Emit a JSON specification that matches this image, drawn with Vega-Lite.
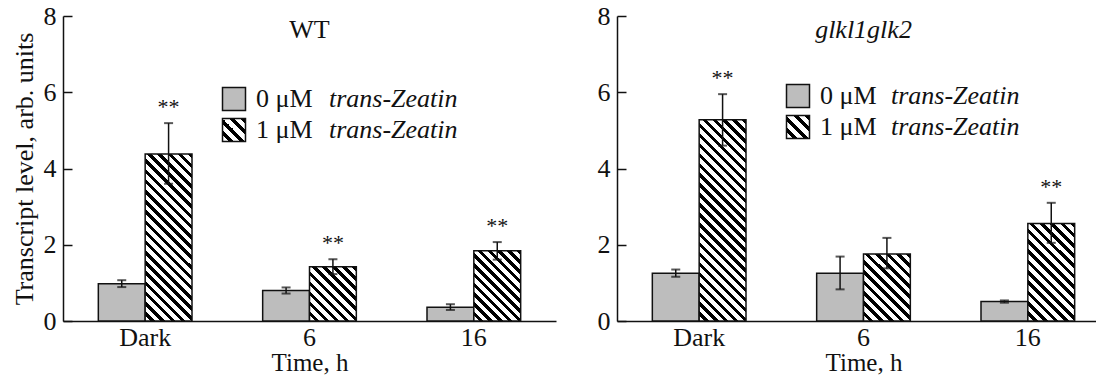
{
  "$schema": "https://vega.github.io/schema/vega-lite/v6.json",
  "padding": {"left": 10, "top": 3, "right": 0, "bottom": 0},
  "config": {
    "font": "Liberation Serif",
    "view": {"stroke": null},
    "axis": {"labelFont": "Liberation Serif", "labelFontSize": 26, "labelColor": "#111", "titleFont": "Liberation Serif", "titleFontSize": 26, "titleFontWeight": "normal", "titleColor": "#111", "domainColor": "#111", "domainWidth": 1.5, "tickColor": "#111", "tickWidth": 1.5, "grid": false},
    "legend": {"labelFont": "Liberation Serif", "labelFontSize": 26, "labelColor": "#111"},
    "concat": {"spacing": 41}
  },
  "resolve": {"scale": {"fill": "independent", "opacity": "independent"}, "legend": {"fill": "independent", "opacity": "independent"}},
  "datasets": {
    "wt": [
      {"time": "Dark", "conc": "0", "value": 0.98, "lo": 0.89, "hi": 1.07, "sig": ""},
      {"time": "Dark", "conc": "1", "value": 4.38, "lo": 3.6, "hi": 5.19, "sig": "**"},
      {"time": "6", "conc": "0", "value": 0.8, "lo": 0.72, "hi": 0.88, "sig": ""},
      {"time": "6", "conc": "1", "value": 1.42, "lo": 1.23, "hi": 1.62, "sig": "**"},
      {"time": "16", "conc": "0", "value": 0.36, "lo": 0.29, "hi": 0.44, "sig": ""},
      {"time": "16", "conc": "1", "value": 1.84, "lo": 1.61, "hi": 2.07, "sig": "**"}
    ],
    "glk": [
      {"time": "Dark", "conc": "0", "value": 1.25, "lo": 1.16, "hi": 1.35, "sig": ""},
      {"time": "Dark", "conc": "1", "value": 5.28, "lo": 4.6, "hi": 5.95, "sig": "**"},
      {"time": "6", "conc": "0", "value": 1.25, "lo": 0.83, "hi": 1.69, "sig": ""},
      {"time": "6", "conc": "1", "value": 1.76, "lo": 1.38, "hi": 2.18, "sig": ""},
      {"time": "16", "conc": "0", "value": 0.51, "lo": 0.48, "hi": 0.54, "sig": ""},
      {"time": "16", "conc": "1", "value": 2.56, "lo": 2.05, "hi": 3.1, "sig": "**"}
    ]
  },
  "hconcat": [
    {
      "width": 493, "height": 305,
      "title": {"text": "WT", "fontSize": 26, "fontWeight": "normal", "font": "Liberation Serif", "color": "#111", "frame": "group", "anchor": "middle", "offset": -40},
      "data": {"name": "wt"},
      "encoding": {
        "x": {"field": "time", "type": "nominal", "sort": ["Dark", "6", "16"], "scale": {"paddingInner": 0.43, "paddingOuter": 0.215}, "axis": {"title": "Time, h", "titleFontSize": 25, "labelAngle": 0, "ticks": false, "labelPadding": 3, "titlePadding": 0}},
        "xOffset": {"field": "conc", "type": "nominal", "scale": {"domain": ["0", "1"]}}
      },
      "layer": [
        {
          "transform": [{"filter": "datum.conc == '0'"}],
          "mark": {"type": "bar", "stroke": "#111", "strokeWidth": 1.5},
          "encoding": {
            "y": {"field": "value", "type": "quantitative", "scale": {"domain": [0, 8]}, "axis": {"title": "Transcript level, arb. units", "values": [0, 2, 4, 6, 8], "tickSize": -9, "labelPadding": 16, "titlePadding": 6}},
            "fill": {"field": "conc", "type": "nominal", "scale": {"domain": ["0", "1"], "range": ["#bdbdbd", {"expr": "{gradient: 'linear', x1: 0, y1: 1, x2: 1, y2: 0, stops: [{offset: 0, color: '#fff'}, {offset: 0.1375, color: '#fff'}, {offset: 0.1375, color: '#000'}, {offset: 0.25, color: '#000'}, {offset: 0.25, color: '#fff'}, {offset: 0.3875, color: '#fff'}, {offset: 0.3875, color: '#000'}, {offset: 0.5, color: '#000'}, {offset: 0.5, color: '#fff'}, {offset: 0.6375, color: '#fff'}, {offset: 0.6375, color: '#000'}, {offset: 0.75, color: '#000'}, {offset: 0.75, color: '#fff'}, {offset: 0.8875, color: '#fff'}, {offset: 0.8875, color: '#000'}, {offset: 1, color: '#000'}]}"}]},
              "legend": {"orient": "none", "legendX": 158, "legendY": 70, "title": null, "symbolType": "square", "symbolSize": 529, "symbolStrokeColor": "#111", "symbolStrokeWidth": 1.5, "symbolOpacity": 1, "labelExpr": "datum.label + ' μM'", "labelOffset": 9, "rowPadding": 1, "padding": 0}},
            "opacity": {"field": "conc", "type": "nominal", "scale": {"domain": ["1", "0"], "range": [1, 1]},
              "legend": {"orient": "none", "legendX": 158, "legendY": 70, "title": null, "symbolType": "square", "symbolSize": 529, "symbolFillColor": "transparent", "symbolStrokeColor": "transparent", "symbolStrokeWidth": 1.5, "labelExpr": "'trans-Zeatin'", "labelFontStyle": "italic", "labelOffset": 82, "rowPadding": 1, "padding": 0,
                "encode": {"symbols": {"update": {"fill": {"value": "transparent"}, "stroke": {"value": "transparent"}, "opacity": {"value": 0}}}}}}
          }
        },
        {
          "transform": [{"filter": "datum.conc == '1' && datum.time == 'Dark'"}],
          "mark": {"type": "bar", "stroke": "#111", "strokeWidth": 1.5, "fill": {"gradient": "linear", "x1": 0, "y1": 1, "x2": 0.3327, "y2": -0.187, "stops": [
            {"offset": 0, "color": "#fff"},
            {"offset": 0.0262, "color": "#fff"}, {"offset": 0.0262, "color": "#000"}, {"offset": 0.0476, "color": "#000"}, {"offset": 0.0476, "color": "#fff"},
            {"offset": 0.0738, "color": "#fff"}, {"offset": 0.0738, "color": "#000"}, {"offset": 0.0952, "color": "#000"}, {"offset": 0.0952, "color": "#fff"},
            {"offset": 0.1214, "color": "#fff"}, {"offset": 0.1214, "color": "#000"}, {"offset": 0.1429, "color": "#000"}, {"offset": 0.1429, "color": "#fff"},
            {"offset": 0.169, "color": "#fff"}, {"offset": 0.169, "color": "#000"}, {"offset": 0.1905, "color": "#000"}, {"offset": 0.1905, "color": "#fff"},
            {"offset": 0.2167, "color": "#fff"}, {"offset": 0.2167, "color": "#000"}, {"offset": 0.2381, "color": "#000"}, {"offset": 0.2381, "color": "#fff"},
            {"offset": 0.2643, "color": "#fff"}, {"offset": 0.2643, "color": "#000"}, {"offset": 0.2857, "color": "#000"}, {"offset": 0.2857, "color": "#fff"},
            {"offset": 0.3119, "color": "#fff"}, {"offset": 0.3119, "color": "#000"}, {"offset": 0.3333, "color": "#000"}, {"offset": 0.3333, "color": "#fff"},
            {"offset": 0.3595, "color": "#fff"}, {"offset": 0.3595, "color": "#000"}, {"offset": 0.381, "color": "#000"}, {"offset": 0.381, "color": "#fff"},
            {"offset": 0.4071, "color": "#fff"}, {"offset": 0.4071, "color": "#000"}, {"offset": 0.4286, "color": "#000"}, {"offset": 0.4286, "color": "#fff"},
            {"offset": 0.4548, "color": "#fff"}, {"offset": 0.4548, "color": "#000"}, {"offset": 0.4762, "color": "#000"}, {"offset": 0.4762, "color": "#fff"},
            {"offset": 0.5024, "color": "#fff"}, {"offset": 0.5024, "color": "#000"}, {"offset": 0.5238, "color": "#000"}, {"offset": 0.5238, "color": "#fff"},
            {"offset": 0.55, "color": "#fff"}, {"offset": 0.55, "color": "#000"}, {"offset": 0.5714, "color": "#000"}, {"offset": 0.5714, "color": "#fff"},
            {"offset": 0.5976, "color": "#fff"}, {"offset": 0.5976, "color": "#000"}, {"offset": 0.619, "color": "#000"}, {"offset": 0.619, "color": "#fff"},
            {"offset": 0.6452, "color": "#fff"}, {"offset": 0.6452, "color": "#000"}, {"offset": 0.6667, "color": "#000"}, {"offset": 0.6667, "color": "#fff"},
            {"offset": 0.6929, "color": "#fff"}, {"offset": 0.6929, "color": "#000"}, {"offset": 0.7143, "color": "#000"}, {"offset": 0.7143, "color": "#fff"},
            {"offset": 0.7405, "color": "#fff"}, {"offset": 0.7405, "color": "#000"}, {"offset": 0.7619, "color": "#000"}, {"offset": 0.7619, "color": "#fff"},
            {"offset": 0.7881, "color": "#fff"}, {"offset": 0.7881, "color": "#000"}, {"offset": 0.8095, "color": "#000"}, {"offset": 0.8095, "color": "#fff"},
            {"offset": 0.8357, "color": "#fff"}, {"offset": 0.8357, "color": "#000"}, {"offset": 0.8571, "color": "#000"}, {"offset": 0.8571, "color": "#fff"},
            {"offset": 0.8833, "color": "#fff"}, {"offset": 0.8833, "color": "#000"}, {"offset": 0.9048, "color": "#000"}, {"offset": 0.9048, "color": "#fff"},
            {"offset": 0.931, "color": "#fff"}, {"offset": 0.931, "color": "#000"}, {"offset": 0.9524, "color": "#000"}, {"offset": 0.9524, "color": "#fff"},
            {"offset": 0.9786, "color": "#fff"}, {"offset": 0.9786, "color": "#000"}, {"offset": 1, "color": "#000"}
          ]}},
          "encoding": {"y": {"field": "value", "type": "quantitative"}}
        },
        {
          "transform": [{"filter": "datum.conc == '1' && datum.time == '6'"}],
          "mark": {"type": "bar", "stroke": "#111", "strokeWidth": 1.5, "fill": {"gradient": "linear", "x1": 0, "y1": 1, "x2": 0.9228, "y2": -0.0668, "stops": [
            {"offset": 0, "color": "#fff"},
            {"offset": 0.055, "color": "#fff"}, {"offset": 0.055, "color": "#000"}, {"offset": 0.1, "color": "#000"}, {"offset": 0.1, "color": "#fff"},
            {"offset": 0.155, "color": "#fff"}, {"offset": 0.155, "color": "#000"}, {"offset": 0.2, "color": "#000"}, {"offset": 0.2, "color": "#fff"},
            {"offset": 0.255, "color": "#fff"}, {"offset": 0.255, "color": "#000"}, {"offset": 0.3, "color": "#000"}, {"offset": 0.3, "color": "#fff"},
            {"offset": 0.355, "color": "#fff"}, {"offset": 0.355, "color": "#000"}, {"offset": 0.4, "color": "#000"}, {"offset": 0.4, "color": "#fff"},
            {"offset": 0.455, "color": "#fff"}, {"offset": 0.455, "color": "#000"}, {"offset": 0.5, "color": "#000"}, {"offset": 0.5, "color": "#fff"},
            {"offset": 0.555, "color": "#fff"}, {"offset": 0.555, "color": "#000"}, {"offset": 0.6, "color": "#000"}, {"offset": 0.6, "color": "#fff"},
            {"offset": 0.655, "color": "#fff"}, {"offset": 0.655, "color": "#000"}, {"offset": 0.7, "color": "#000"}, {"offset": 0.7, "color": "#fff"},
            {"offset": 0.755, "color": "#fff"}, {"offset": 0.755, "color": "#000"}, {"offset": 0.8, "color": "#000"}, {"offset": 0.8, "color": "#fff"},
            {"offset": 0.855, "color": "#fff"}, {"offset": 0.855, "color": "#000"}, {"offset": 0.9, "color": "#000"}, {"offset": 0.9, "color": "#fff"},
            {"offset": 0.955, "color": "#fff"}, {"offset": 0.955, "color": "#000"}, {"offset": 1, "color": "#000"}
          ]}},
          "encoding": {"y": {"field": "value", "type": "quantitative"}}
        },
        {
          "transform": [{"filter": "datum.conc == '1' && datum.time == '16'"}],
          "mark": {"type": "bar", "stroke": "#111", "strokeWidth": 1.5, "fill": {"gradient": "linear", "x1": 0, "y1": 1, "x2": 0.7692, "y2": -0.1539, "stops": [
            {"offset": 0, "color": "#fff"},
            {"offset": 0.0458, "color": "#fff"}, {"offset": 0.0458, "color": "#000"}, {"offset": 0.0833, "color": "#000"}, {"offset": 0.0833, "color": "#fff"},
            {"offset": 0.1292, "color": "#fff"}, {"offset": 0.1292, "color": "#000"}, {"offset": 0.1667, "color": "#000"}, {"offset": 0.1667, "color": "#fff"},
            {"offset": 0.2125, "color": "#fff"}, {"offset": 0.2125, "color": "#000"}, {"offset": 0.25, "color": "#000"}, {"offset": 0.25, "color": "#fff"},
            {"offset": 0.2958, "color": "#fff"}, {"offset": 0.2958, "color": "#000"}, {"offset": 0.3333, "color": "#000"}, {"offset": 0.3333, "color": "#fff"},
            {"offset": 0.3792, "color": "#fff"}, {"offset": 0.3792, "color": "#000"}, {"offset": 0.4167, "color": "#000"}, {"offset": 0.4167, "color": "#fff"},
            {"offset": 0.4625, "color": "#fff"}, {"offset": 0.4625, "color": "#000"}, {"offset": 0.5, "color": "#000"}, {"offset": 0.5, "color": "#fff"},
            {"offset": 0.5458, "color": "#fff"}, {"offset": 0.5458, "color": "#000"}, {"offset": 0.5833, "color": "#000"}, {"offset": 0.5833, "color": "#fff"},
            {"offset": 0.6292, "color": "#fff"}, {"offset": 0.6292, "color": "#000"}, {"offset": 0.6667, "color": "#000"}, {"offset": 0.6667, "color": "#fff"},
            {"offset": 0.7125, "color": "#fff"}, {"offset": 0.7125, "color": "#000"}, {"offset": 0.75, "color": "#000"}, {"offset": 0.75, "color": "#fff"},
            {"offset": 0.7958, "color": "#fff"}, {"offset": 0.7958, "color": "#000"}, {"offset": 0.8333, "color": "#000"}, {"offset": 0.8333, "color": "#fff"},
            {"offset": 0.8792, "color": "#fff"}, {"offset": 0.8792, "color": "#000"}, {"offset": 0.9167, "color": "#000"}, {"offset": 0.9167, "color": "#fff"},
            {"offset": 0.9625, "color": "#fff"}, {"offset": 0.9625, "color": "#000"}, {"offset": 1, "color": "#000"}
          ]}},
          "encoding": {"y": {"field": "value", "type": "quantitative"}}
        },
        {
          "mark": {"type": "rule", "color": "#111", "strokeWidth": 1.5},
          "encoding": {"y": {"field": "lo", "type": "quantitative"}, "y2": {"field": "hi"}}
        },
        {
          "mark": {"type": "tick", "color": "#111", "size": 9, "thickness": 2, "orient": "horizontal"},
          "encoding": {"y": {"field": "hi", "type": "quantitative"}}
        },
        {
          "mark": {"type": "tick", "color": "#111", "size": 9, "thickness": 2, "orient": "horizontal"},
          "encoding": {"y": {"field": "lo", "type": "quantitative"}}
        },
        {
          "transform": [{"filter": "datum.sig != ''"}],
          "mark": {"type": "text", "fontSize": 22, "dy": -9, "baseline": "alphabetic", "color": "#111", "font": "Liberation Serif"},
          "encoding": {"y": {"field": "hi", "type": "quantitative"}, "text": {"field": "sig"}}
        }
      ]
    },
    {
      "width": 493, "height": 305,
      "title": {"text": "glkl1glk2", "fontSize": 26, "fontWeight": "normal", "fontStyle": "italic", "font": "Liberation Serif", "color": "#111", "frame": "group", "anchor": "middle", "offset": -40},
      "data": {"name": "glk"},
      "encoding": {
        "x": {"field": "time", "type": "nominal", "sort": ["Dark", "6", "16"], "scale": {"paddingInner": 0.43, "paddingOuter": 0.215}, "axis": {"title": "Time, h", "titleFontSize": 25, "labelAngle": 0, "ticks": false, "labelPadding": 3, "titlePadding": 0}},
        "xOffset": {"field": "conc", "type": "nominal", "scale": {"domain": ["0", "1"]}}
      },
      "layer": [
        {
          "transform": [{"filter": "datum.conc == '0'"}],
          "mark": {"type": "bar", "stroke": "#111", "strokeWidth": 1.5},
          "encoding": {
            "y": {"field": "value", "type": "quantitative", "scale": {"domain": [0, 8]}, "axis": {"title": null, "values": [0, 2, 4, 6, 8], "tickSize": -9, "labelPadding": 16}},
            "fill": {"field": "conc", "type": "nominal", "scale": {"domain": ["0", "1"], "range": ["#bdbdbd", {"expr": "{gradient: 'linear', x1: 0, y1: 1, x2: 1, y2: 0, stops: [{offset: 0, color: '#fff'}, {offset: 0.1375, color: '#fff'}, {offset: 0.1375, color: '#000'}, {offset: 0.25, color: '#000'}, {offset: 0.25, color: '#fff'}, {offset: 0.3875, color: '#fff'}, {offset: 0.3875, color: '#000'}, {offset: 0.5, color: '#000'}, {offset: 0.5, color: '#fff'}, {offset: 0.6375, color: '#fff'}, {offset: 0.6375, color: '#000'}, {offset: 0.75, color: '#000'}, {offset: 0.75, color: '#fff'}, {offset: 0.8875, color: '#fff'}, {offset: 0.8875, color: '#000'}, {offset: 1, color: '#000'}]}"}]},
              "legend": {"orient": "none", "legendX": 168, "legendY": 67, "title": null, "symbolType": "square", "symbolSize": 529, "symbolStrokeColor": "#111", "symbolStrokeWidth": 1.5, "symbolOpacity": 1, "labelExpr": "datum.label + ' μM'", "labelOffset": 9, "rowPadding": 1, "padding": 0}},
            "opacity": {"field": "conc", "type": "nominal", "scale": {"domain": ["1", "0"], "range": [1, 1]},
              "legend": {"orient": "none", "legendX": 168, "legendY": 67, "title": null, "symbolType": "square", "symbolSize": 529, "symbolFillColor": "transparent", "symbolStrokeColor": "transparent", "symbolStrokeWidth": 1.5, "labelExpr": "'trans-Zeatin'", "labelFontStyle": "italic", "labelOffset": 80, "rowPadding": 1, "padding": 0,
                "encode": {"symbols": {"update": {"fill": {"value": "transparent"}, "stroke": {"value": "transparent"}, "opacity": {"value": 0}}}}}}
          }
        },
        {
          "transform": [{"filter": "datum.conc == '1' && datum.time == 'Dark'"}],
          "mark": {"type": "bar", "stroke": "#111", "strokeWidth": 1.5, "fill": {"gradient": "linear", "x1": 0, "y1": 1, "x2": 0.2718, "y2": -0.1693, "stops": [
            {"offset": 0, "color": "#fff"},
            {"offset": 0.022, "color": "#fff"}, {"offset": 0.022, "color": "#000"}, {"offset": 0.04, "color": "#000"}, {"offset": 0.04, "color": "#fff"},
            {"offset": 0.062, "color": "#fff"}, {"offset": 0.062, "color": "#000"}, {"offset": 0.08, "color": "#000"}, {"offset": 0.08, "color": "#fff"},
            {"offset": 0.102, "color": "#fff"}, {"offset": 0.102, "color": "#000"}, {"offset": 0.12, "color": "#000"}, {"offset": 0.12, "color": "#fff"},
            {"offset": 0.142, "color": "#fff"}, {"offset": 0.142, "color": "#000"}, {"offset": 0.16, "color": "#000"}, {"offset": 0.16, "color": "#fff"},
            {"offset": 0.182, "color": "#fff"}, {"offset": 0.182, "color": "#000"}, {"offset": 0.2, "color": "#000"}, {"offset": 0.2, "color": "#fff"},
            {"offset": 0.222, "color": "#fff"}, {"offset": 0.222, "color": "#000"}, {"offset": 0.24, "color": "#000"}, {"offset": 0.24, "color": "#fff"},
            {"offset": 0.262, "color": "#fff"}, {"offset": 0.262, "color": "#000"}, {"offset": 0.28, "color": "#000"}, {"offset": 0.28, "color": "#fff"},
            {"offset": 0.302, "color": "#fff"}, {"offset": 0.302, "color": "#000"}, {"offset": 0.32, "color": "#000"}, {"offset": 0.32, "color": "#fff"},
            {"offset": 0.342, "color": "#fff"}, {"offset": 0.342, "color": "#000"}, {"offset": 0.36, "color": "#000"}, {"offset": 0.36, "color": "#fff"},
            {"offset": 0.382, "color": "#fff"}, {"offset": 0.382, "color": "#000"}, {"offset": 0.4, "color": "#000"}, {"offset": 0.4, "color": "#fff"},
            {"offset": 0.422, "color": "#fff"}, {"offset": 0.422, "color": "#000"}, {"offset": 0.44, "color": "#000"}, {"offset": 0.44, "color": "#fff"},
            {"offset": 0.462, "color": "#fff"}, {"offset": 0.462, "color": "#000"}, {"offset": 0.48, "color": "#000"}, {"offset": 0.48, "color": "#fff"},
            {"offset": 0.502, "color": "#fff"}, {"offset": 0.502, "color": "#000"}, {"offset": 0.52, "color": "#000"}, {"offset": 0.52, "color": "#fff"},
            {"offset": 0.542, "color": "#fff"}, {"offset": 0.542, "color": "#000"}, {"offset": 0.56, "color": "#000"}, {"offset": 0.56, "color": "#fff"},
            {"offset": 0.582, "color": "#fff"}, {"offset": 0.582, "color": "#000"}, {"offset": 0.6, "color": "#000"}, {"offset": 0.6, "color": "#fff"},
            {"offset": 0.622, "color": "#fff"}, {"offset": 0.622, "color": "#000"}, {"offset": 0.64, "color": "#000"}, {"offset": 0.64, "color": "#fff"},
            {"offset": 0.662, "color": "#fff"}, {"offset": 0.662, "color": "#000"}, {"offset": 0.68, "color": "#000"}, {"offset": 0.68, "color": "#fff"},
            {"offset": 0.702, "color": "#fff"}, {"offset": 0.702, "color": "#000"}, {"offset": 0.72, "color": "#000"}, {"offset": 0.72, "color": "#fff"},
            {"offset": 0.742, "color": "#fff"}, {"offset": 0.742, "color": "#000"}, {"offset": 0.76, "color": "#000"}, {"offset": 0.76, "color": "#fff"},
            {"offset": 0.782, "color": "#fff"}, {"offset": 0.782, "color": "#000"}, {"offset": 0.8, "color": "#000"}, {"offset": 0.8, "color": "#fff"},
            {"offset": 0.822, "color": "#fff"}, {"offset": 0.822, "color": "#000"}, {"offset": 0.84, "color": "#000"}, {"offset": 0.84, "color": "#fff"},
            {"offset": 0.862, "color": "#fff"}, {"offset": 0.862, "color": "#000"}, {"offset": 0.88, "color": "#000"}, {"offset": 0.88, "color": "#fff"},
            {"offset": 0.902, "color": "#fff"}, {"offset": 0.902, "color": "#000"}, {"offset": 0.92, "color": "#000"}, {"offset": 0.92, "color": "#fff"},
            {"offset": 0.942, "color": "#fff"}, {"offset": 0.942, "color": "#000"}, {"offset": 0.96, "color": "#000"}, {"offset": 0.96, "color": "#fff"},
            {"offset": 0.982, "color": "#fff"}, {"offset": 0.982, "color": "#000"}, {"offset": 1, "color": "#000"}
          ]}},
          "encoding": {"y": {"field": "value", "type": "quantitative"}}
        },
        {
          "transform": [{"filter": "datum.conc == '1' && datum.time == '6'"}],
          "mark": {"type": "bar", "stroke": "#111", "strokeWidth": 1.5, "fill": {"gradient": "linear", "x1": 0, "y1": 1, "x2": 0.7965, "y2": -0.142, "stops": [
            {"offset": 0, "color": "#fff"},
            {"offset": 0.05, "color": "#fff"}, {"offset": 0.05, "color": "#000"}, {"offset": 0.0909, "color": "#000"}, {"offset": 0.0909, "color": "#fff"},
            {"offset": 0.1409, "color": "#fff"}, {"offset": 0.1409, "color": "#000"}, {"offset": 0.1818, "color": "#000"}, {"offset": 0.1818, "color": "#fff"},
            {"offset": 0.2318, "color": "#fff"}, {"offset": 0.2318, "color": "#000"}, {"offset": 0.2727, "color": "#000"}, {"offset": 0.2727, "color": "#fff"},
            {"offset": 0.3227, "color": "#fff"}, {"offset": 0.3227, "color": "#000"}, {"offset": 0.3636, "color": "#000"}, {"offset": 0.3636, "color": "#fff"},
            {"offset": 0.4136, "color": "#fff"}, {"offset": 0.4136, "color": "#000"}, {"offset": 0.4545, "color": "#000"}, {"offset": 0.4545, "color": "#fff"},
            {"offset": 0.5045, "color": "#fff"}, {"offset": 0.5045, "color": "#000"}, {"offset": 0.5455, "color": "#000"}, {"offset": 0.5455, "color": "#fff"},
            {"offset": 0.5955, "color": "#fff"}, {"offset": 0.5955, "color": "#000"}, {"offset": 0.6364, "color": "#000"}, {"offset": 0.6364, "color": "#fff"},
            {"offset": 0.6864, "color": "#fff"}, {"offset": 0.6864, "color": "#000"}, {"offset": 0.7273, "color": "#000"}, {"offset": 0.7273, "color": "#fff"},
            {"offset": 0.7773, "color": "#fff"}, {"offset": 0.7773, "color": "#000"}, {"offset": 0.8182, "color": "#000"}, {"offset": 0.8182, "color": "#fff"},
            {"offset": 0.8682, "color": "#fff"}, {"offset": 0.8682, "color": "#000"}, {"offset": 0.9091, "color": "#000"}, {"offset": 0.9091, "color": "#fff"},
            {"offset": 0.9591, "color": "#fff"}, {"offset": 0.9591, "color": "#000"}, {"offset": 1, "color": "#000"}
          ]}},
          "encoding": {"y": {"field": "value", "type": "quantitative"}}
        },
        {
          "transform": [{"filter": "datum.conc == '1' && datum.time == '16'"}],
          "mark": {"type": "bar", "stroke": "#111", "strokeWidth": 1.5, "fill": {"gradient": "linear", "x1": 0, "y1": 1, "x2": 0.5768, "y2": -0.2029, "stops": [
            {"offset": 0, "color": "#fff"},
            {"offset": 0.0393, "color": "#fff"}, {"offset": 0.0393, "color": "#000"}, {"offset": 0.0714, "color": "#000"}, {"offset": 0.0714, "color": "#fff"},
            {"offset": 0.1107, "color": "#fff"}, {"offset": 0.1107, "color": "#000"}, {"offset": 0.1429, "color": "#000"}, {"offset": 0.1429, "color": "#fff"},
            {"offset": 0.1821, "color": "#fff"}, {"offset": 0.1821, "color": "#000"}, {"offset": 0.2143, "color": "#000"}, {"offset": 0.2143, "color": "#fff"},
            {"offset": 0.2536, "color": "#fff"}, {"offset": 0.2536, "color": "#000"}, {"offset": 0.2857, "color": "#000"}, {"offset": 0.2857, "color": "#fff"},
            {"offset": 0.325, "color": "#fff"}, {"offset": 0.325, "color": "#000"}, {"offset": 0.3571, "color": "#000"}, {"offset": 0.3571, "color": "#fff"},
            {"offset": 0.3964, "color": "#fff"}, {"offset": 0.3964, "color": "#000"}, {"offset": 0.4286, "color": "#000"}, {"offset": 0.4286, "color": "#fff"},
            {"offset": 0.4679, "color": "#fff"}, {"offset": 0.4679, "color": "#000"}, {"offset": 0.5, "color": "#000"}, {"offset": 0.5, "color": "#fff"},
            {"offset": 0.5393, "color": "#fff"}, {"offset": 0.5393, "color": "#000"}, {"offset": 0.5714, "color": "#000"}, {"offset": 0.5714, "color": "#fff"},
            {"offset": 0.6107, "color": "#fff"}, {"offset": 0.6107, "color": "#000"}, {"offset": 0.6429, "color": "#000"}, {"offset": 0.6429, "color": "#fff"},
            {"offset": 0.6821, "color": "#fff"}, {"offset": 0.6821, "color": "#000"}, {"offset": 0.7143, "color": "#000"}, {"offset": 0.7143, "color": "#fff"},
            {"offset": 0.7536, "color": "#fff"}, {"offset": 0.7536, "color": "#000"}, {"offset": 0.7857, "color": "#000"}, {"offset": 0.7857, "color": "#fff"},
            {"offset": 0.825, "color": "#fff"}, {"offset": 0.825, "color": "#000"}, {"offset": 0.8571, "color": "#000"}, {"offset": 0.8571, "color": "#fff"},
            {"offset": 0.8964, "color": "#fff"}, {"offset": 0.8964, "color": "#000"}, {"offset": 0.9286, "color": "#000"}, {"offset": 0.9286, "color": "#fff"},
            {"offset": 0.9679, "color": "#fff"}, {"offset": 0.9679, "color": "#000"}, {"offset": 1, "color": "#000"}
          ]}},
          "encoding": {"y": {"field": "value", "type": "quantitative"}}
        },
        {
          "mark": {"type": "rule", "color": "#111", "strokeWidth": 1.5},
          "encoding": {"y": {"field": "lo", "type": "quantitative"}, "y2": {"field": "hi"}}
        },
        {
          "mark": {"type": "tick", "color": "#111", "size": 9, "thickness": 2, "orient": "horizontal"},
          "encoding": {"y": {"field": "hi", "type": "quantitative"}}
        },
        {
          "mark": {"type": "tick", "color": "#111", "size": 9, "thickness": 2, "orient": "horizontal"},
          "encoding": {"y": {"field": "lo", "type": "quantitative"}}
        },
        {
          "transform": [{"filter": "datum.sig != ''"}],
          "mark": {"type": "text", "fontSize": 22, "dy": -9, "baseline": "alphabetic", "color": "#111", "font": "Liberation Serif"},
          "encoding": {"y": {"field": "hi", "type": "quantitative"}, "text": {"field": "sig"}}
        }
      ]
    }
  ]
}
